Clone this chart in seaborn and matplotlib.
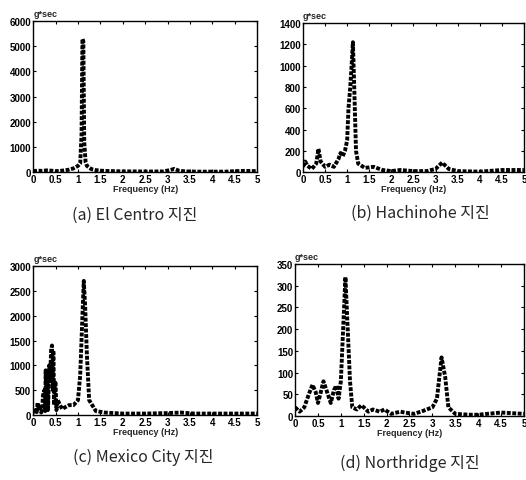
import numpy as np
import pandas as pd
import matplotlib
matplotlib.use('Agg')
import matplotlib.pyplot as plt
import seaborn as sns

# values (frequency in Hz, amplitude in g*sec)
freq_elcentro = [0, 0.1, 0.2, 0.3, 0.4, 0.5, 0.6, 0.7, 0.8, 0.9, 1.0, 1.05, 1.08, 1.1, 1.12,
                 1.14, 1.17, 1.2, 1.3, 1.4, 1.5, 1.6, 1.8, 2.0, 2.3, 2.6, 2.9, 3.05, 3.15,
                 3.25, 3.4, 3.7, 4.0, 4.3, 4.5, 4.7, 5.0]
amp_elcentro = [40, 60, 50, 70, 60, 40, 50, 70, 100, 150, 250, 350, 1500, 5300, 5200,
                1200, 400, 250, 120, 80, 60, 50, 40, 30, 30, 25, 30, 80, 130,
                60, 30, 20, 20, 20, 40, 50, 40]

freq_hachinohe = [0, 0.05, 0.1, 0.2, 0.3, 0.35, 0.4, 0.5, 0.6, 0.7, 0.8, 0.85, 0.9, 0.95,
                  1.0, 1.03, 1.07, 1.1, 1.13, 1.16, 1.2, 1.25, 1.4, 1.6, 1.8, 2.0, 2.2,
                  2.5, 2.8, 3.0, 3.15, 3.3, 3.5, 4.0, 4.5, 5.0]
amp_hachinohe = [50, 100, 60, 30, 80, 220, 100, 50, 70, 50, 120, 180, 150, 200,
                 300, 600, 800, 1000, 1220, 800, 200, 80, 40, 50, 20, 10, 20,
                 10, 10, 30, 90, 30, 10, 5, 20, 20]

freq_mexico = [0, 0.05, 0.08, 0.1, 0.12, 0.15, 0.18, 0.2, 0.22, 0.25, 0.27, 0.28, 0.3,
               0.32, 0.33, 0.35, 0.36, 0.38, 0.4, 0.42, 0.44, 0.45, 0.47, 0.48, 0.5,
               0.52, 0.55, 0.6, 0.65, 0.7, 0.8, 0.9, 1.0, 1.05, 1.1, 1.13, 1.16, 1.2,
               1.25, 1.4, 1.6, 2.0, 2.5, 3.0, 3.3, 3.6, 4.0, 4.5, 5.0]
amp_mexico = [50, 100, 60, 250, 120, 200, 50, 100, 400, 500, 80, 900, 300,
              850, 100, 600, 1000, 700, 1300, 1400, 500, 1300, 200, 600, 650,
              100, 300, 200, 120, 150, 200, 200, 300, 800, 2000, 2700, 2200, 1200,
              300, 80, 50, 30, 30, 40, 50, 30, 30, 30, 30]

freq_northridge = [0, 0.1, 0.2, 0.3, 0.38, 0.45, 0.5, 0.55, 0.62, 0.7, 0.78, 0.85, 0.9,
                   0.95, 1.0, 1.05, 1.1, 1.15, 1.2, 1.25, 1.35, 1.45, 1.6, 1.7, 1.85,
                   1.95, 2.1, 2.3, 2.4, 2.6, 2.8, 3.0, 3.1, 3.2, 3.28, 3.35, 3.5, 3.8,
                   4.0, 4.5, 5.0]
amp_northridge = [20, 10, 20, 50, 72, 55, 30, 50, 80, 55, 30, 60, 70,
                  40, 80, 200, 320, 200, 80, 20, 15, 25, 10, 15, 10,
                  15, 5, 10, 8, 5, 12, 20, 40, 135, 90, 20, 5, 3,
                  3, 8, 5]

captions = ['(a) El Centro 지진', '(b) Hachinohe 지진', '(c) Mexico City 지진', '(d) Northridge 지진']
ymax = [6000, 1400, 3000, 350]
ystep = [1000, 200, 500, 50]
xticks = [0, 0.5, 1, 1.5, 2, 2.5, 3, 3.5, 4, 4.5, 5]
xticklabels = ['0', '0.5', '1', '1.5', '2', '2.5', '3', '3.5', '4', '4.5', '5']

sns.set_theme(style='ticks')
plt.rcParams['font.family'] = ['Liberation Sans', 'DejaVu Sans']

fig = plt.figure(figsize=(5.26, 4.81), dpi=100)
positions = [[0.063, 0.640, 0.426, 0.314],
             [0.576, 0.640, 0.420, 0.310],
             [0.063, 0.135, 0.426, 0.310],
             [0.561, 0.133, 0.435, 0.316]]
series = [(freq_elcentro, amp_elcentro), (freq_hachinohe, amp_hachinohe),
          (freq_mexico, amp_mexico), (freq_northridge, amp_northridge)]
cap_xy = [(135, 215), (420, 213), (143, 457), (410, 463)]

for i, (f, a) in enumerate(series):
    ax = fig.add_axes(positions[i])
    df = pd.DataFrame({'freq': f, 'amp': a})
    sns.lineplot(data=df, x='freq', y='amp', ax=ax, color='black', linewidth=2.8,
                 linestyle=(0, (1, 0.4)))
    ax.set_xlim(0, 5)
    ax.set_ylim(0, ymax[i])
    ax.set_xticks(xticks)
    ax.set_xticklabels(xticklabels)
    ax.set_yticks(np.arange(0, ymax[i] + 1, ystep[i]))
    ax.tick_params(direction='in', top=True, right=True, length=2.5, width=0.8,
                   labelsize=7, pad=1.5, colors='black')
    for lab in ax.get_xticklabels() + ax.get_yticklabels():
        lab.set_fontweight('bold')
    for sp in ax.spines.values():
        sp.set_linewidth(1.0)
        sp.set_color('black')
    ax.set_xlabel('Frequency (Hz)', fontsize=6.5, fontweight='bold', labelpad=0)
    ax.set_ylabel('')
    ax.text(0.0, 1.02, 'g*sec', transform=ax.transAxes, fontsize=6.5,
            fontweight='bold', ha='left', va='bottom')
    fig.text(cap_xy[i][0] / 526, 1 - cap_xy[i][1] / 481, captions[i], fontsize=11.5,
             ha='center', va='center', family=['Noto Sans CJK KR', 'DejaVu Sans'])

fig.savefig('out.png', dpi=100)
